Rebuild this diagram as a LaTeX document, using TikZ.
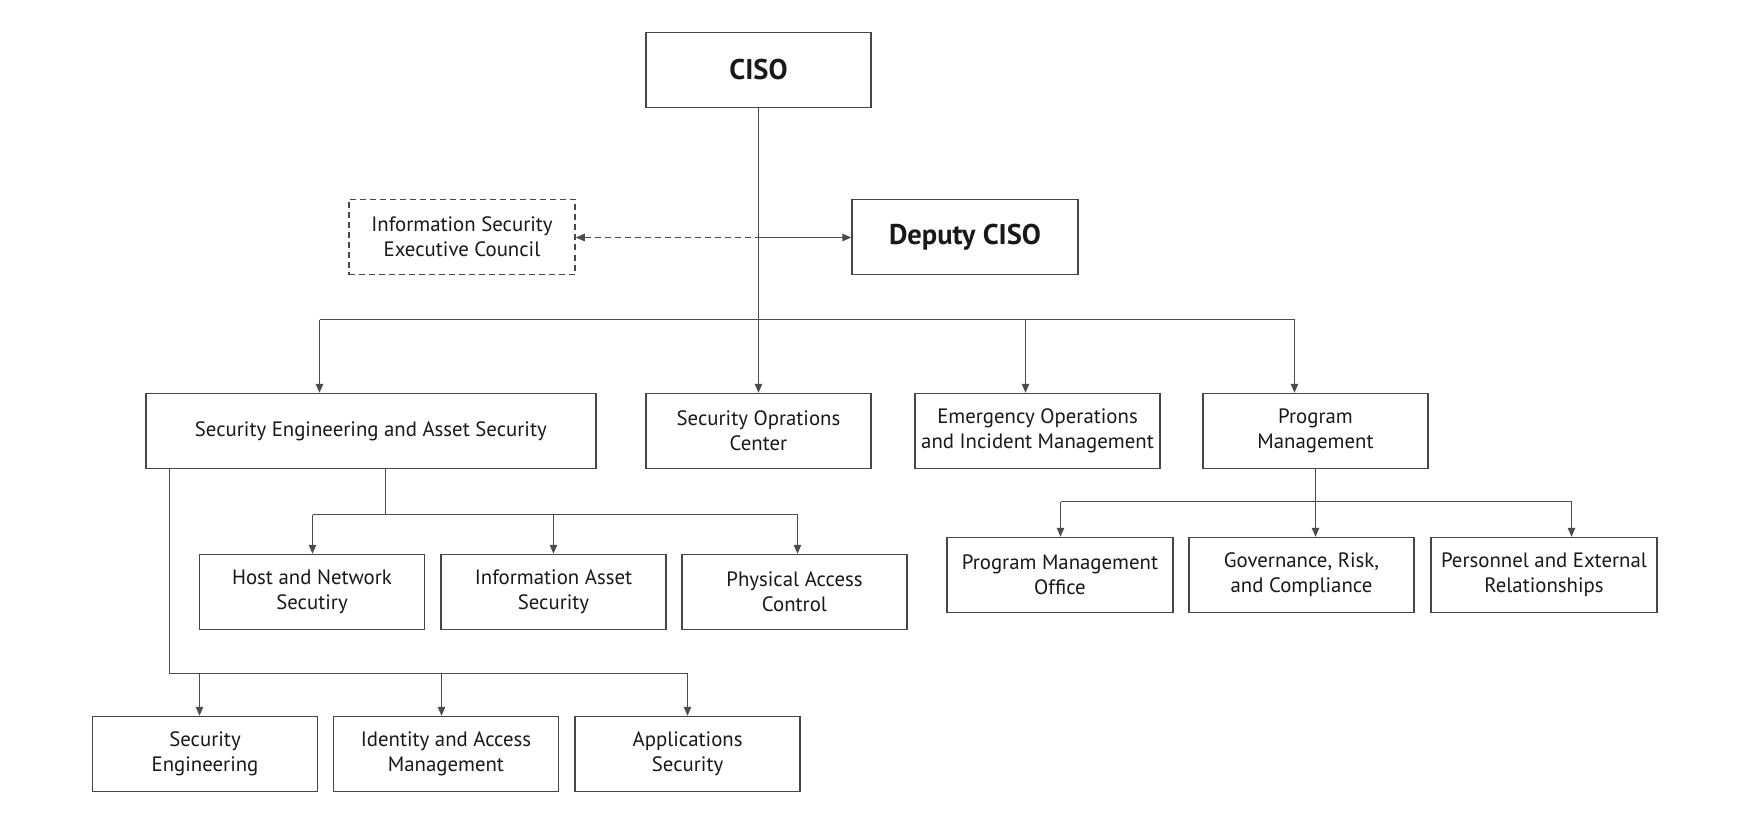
\documentclass[tikz,border=0pt]{standalone}
\usepackage{fontspec}
\setmainfont{PT Sans}
\usetikzlibrary{arrows.meta}
\begin{document}
\begin{tikzpicture}[x=1pt,y=-1pt,
 box/.style={draw=black!72, line width=1.5pt, minimum height=75pt, inner sep=0pt, align=center, text=black!90, font=\fontsize{20.8}{25}\selectfont},
 bigbox/.style={box, font=\fontsize{28.5}{32}\selectfont\bfseries},
 dashbox/.style={box, dash pattern=on 6pt off 4pt},
 ln/.style={draw=black!70, line width=1pt},
 arr/.style={ln, -{Triangle[length=9pt,width=7.5pt]}},
 darr/.style={ln, dash pattern=on 6pt off 4pt, {Triangle[length=9pt,width=7.5pt]}-},
]
\useasboundingbox[fill=white] (0,0) rectangle (1738,821);
% nodes
\node[bigbox, minimum width=225pt] (ciso) at (758.5,70) {CISO};
\node[dashbox, minimum width=226pt] (council) at (462,237) {Information Security\\Executive Council};
\node[bigbox, minimum width=226pt] (deputy) at (965,237) {Deputy CISO};
\node[box, minimum width=450pt] (seas) at (370.8,431) {Security Engineering and Asset Security};
\node[box, minimum width=225pt] (soc) at (758.5,431) {Security Oprations\\Center};
\node[box, minimum width=245pt] (eoim) at (1037.5,431) {Emergency Operations\\and Incident Management};
\node[box, minimum width=225pt] (pm) at (1315.5,431) {Program\\Management};
\node[box, minimum width=225pt] (host) at (312,592) {Host and Network\\Secutiry};
\node[box, minimum width=225pt] (infoa) at (553.5,592) {Information Asset\\Security};
\node[box, minimum width=225pt] (phys) at (794.5,592) {Physical Access\\Control};
\node[box, minimum width=225pt] (seceng) at (205,754) {Security\\Engineering};
\node[box, minimum width=225pt] (iam) at (446,754) {Identity and Access\\Management};
\node[box, minimum width=225pt] (apps) at (687.6,754) {Applications\\Security};
\node[box, minimum width=226pt] (pmo) at (1060,575) {Program Management\\Office};
\node[box, minimum width=225pt] (grc) at (1301.5,575) {Governance, Risk,\\and Compliance};
\node[box, minimum width=226pt] (per) at (1544,575) {Personnel and External\\Relationships};
% junction coordinates
\coordinate (j0) at (758.5,237.5);
\coordinate (b0) at (758.5,319.5);
\coordinate (bL) at (319.5,319.5);
\coordinate (bE) at (1025.5,319.5);
\coordinate (bR) at (1294.5,319.5);
\coordinate (s0) at (385.5,514.5);
\coordinate (sL) at (312.5,514.5);
\coordinate (sM) at (553.5,514.5);
\coordinate (sR) at (797.5,514.5);
\coordinate (t0) at (169.5,673.5);
\coordinate (tA) at (199.5,673.5);
\coordinate (tB) at (441.5,673.5);
\coordinate (tC) at (687.5,673.5);
\coordinate (p0) at (1315.5,501.5);
\coordinate (pL) at (1060.5,501.5);
\coordinate (pR) at (1571.5,501.5);
% connectors
\draw[ln] (ciso.south) -- (b0);
\draw[darr] (council.east |- j0) -- (j0);
\draw[arr] (j0) -- (deputy.west |- j0);
\draw[ln] (bL) -- (bR);
\draw[arr] (bL) -- (bL |- seas.north);
\draw[arr] (b0) -- (b0 |- soc.north);
\draw[arr] (bE) -- (bE |- eoim.north);
\draw[arr] (bR) -- (bR |- pm.north);
\draw[ln] (s0 |- seas.south) -- (s0);
\draw[ln] (sL) -- (sR);
\draw[arr] (sL) -- (sL |- host.north);
\draw[arr] (sM) -- (sM |- infoa.north);
\draw[arr] (sR) -- (sR |- phys.north);
\draw[ln] (t0 |- seas.south) -- (t0) -- (tC);
\draw[arr] (tA) -- (tA |- seceng.north);
\draw[arr] (tB) -- (tB |- iam.north);
\draw[arr] (tC) -- (tC |- apps.north);
\draw[ln] (p0 |- pm.south) -- (p0);
\draw[ln] (pL) -- (pR);
\draw[arr] (pL) -- (pL |- pmo.north);
\draw[arr] (p0) -- (p0 |- grc.north);
\draw[arr] (pR) -- (pR |- per.north);
\end{tikzpicture}
\end{document}
